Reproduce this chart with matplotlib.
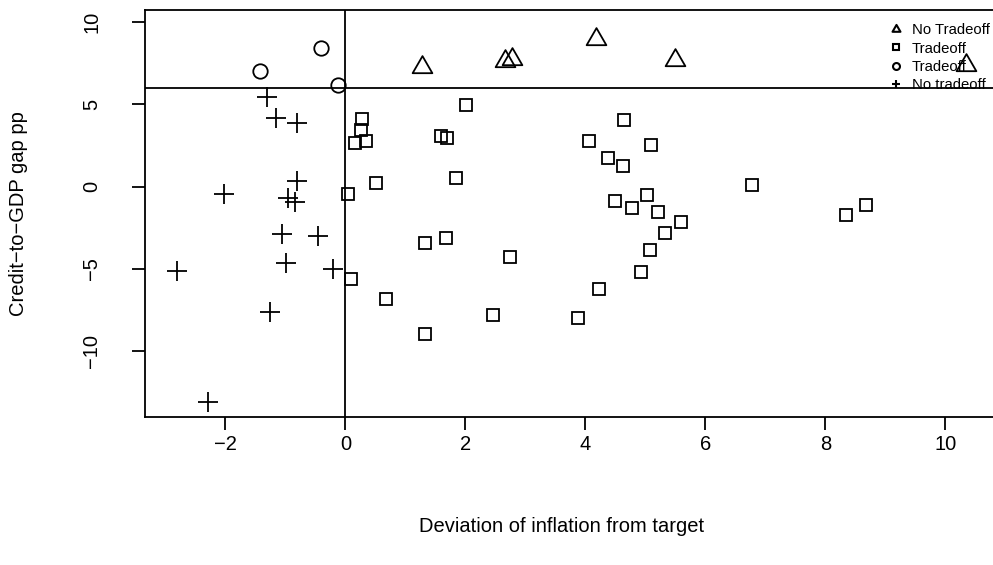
import numpy as np
import matplotlib
matplotlib.use("Agg")
import matplotlib.pyplot as plt
from matplotlib.path import Path
from matplotlib.lines import Line2D

plt.rcParams['font.family'] = ['Liberation Sans', 'DejaVu Sans']

# inflation deviation (x) and credit-to-GDP gap (y) per group
notradeoff_hi_x = [1.28, 2.66, 2.78, 4.17, 5.50, 10.34]
notradeoff_hi_y = [7.25, 7.66, 7.77, 8.95, 7.71, 7.40]

tradeoff_lo_x = [2.01, 0.27, 0.26, 0.16, 0.35, 1.60, 1.70, 1.85, 0.51, 0.04,
                 1.32, 1.67, 2.75, 0.09, 0.67, 2.46, 1.32,
                 4.64, 4.06, 5.10, 4.37, 4.62, 6.77, 4.50, 5.03, 4.77, 5.21,
                 5.60, 5.32, 5.08, 4.92, 4.23, 3.87, 8.34, 8.68]
tradeoff_lo_y = [4.95, 4.12, 3.45, 2.66, 2.78, 3.10, 2.96, 0.53, 0.24, -0.43,
                 -3.44, -3.14, -4.29, -5.61, -6.83, -7.82, -8.95,
                 4.05, 2.76, 2.52, 1.72, 1.26, 0.08, -0.85, -0.50, -1.28, -1.54,
                 -2.15, -2.83, -3.87, -5.17, -6.20, -7.98, -1.70, -1.13]

tradeoff_hi_x = [-1.43, -0.41, -0.12]
tradeoff_hi_y = [7.05, 8.41, 6.18]

notradeoff_lo_x = [-1.30, -1.155, -0.805, -0.81, -2.03, -0.96, -0.84,
                   -1.05, -0.45, -2.805, -0.99, -0.21, -1.25, -2.29]
notradeoff_lo_y = [5.43, 4.16, 3.87, 0.365, -0.44, -0.71, -0.91,
                   -2.86, -2.98, -5.14, -4.66, -5.02, -7.60, -13.09]

legend_labels = ["No Tradeoff", "Tradeoff", "Tradeoff", "No tradeoff"]
gap_threshold = 6
xticks = [-2, 0, 2, 4, 6, 8, 10]
yticks = [-10, -5, 0, 5, 10]

# R style triangle (centred on centroid)
tri = Path([(0, 1), (-0.866, -0.5), (0.866, -0.5), (0, 0)], closed=True)

W, H = 993, 565
fig = plt.figure(figsize=(W / 100, H / 100), dpi=100)
left, bottom, top = 145, 416.7, 10
ax = fig.add_axes([left / W, 1 - bottom / H, 1 - left / W, (bottom - top) / H])

lw = 1.3
ax.plot(notradeoff_hi_x, notradeoff_hi_y, ls='none', marker=tri, ms=16.4,
        mfc='none', mec='black', mew=lw)
ax.plot(tradeoff_lo_x, tradeoff_lo_y, ls='none', marker='s', ms=9.2,
        mfc='none', mec='black', mew=lw)
ax.plot(tradeoff_hi_x, tradeoff_hi_y, ls='none', marker='o', ms=10.4,
        mfc='none', mec='black', mew=lw)
ax.plot(notradeoff_lo_x, notradeoff_lo_y, ls='none', marker='+', ms=14.7,
        mec='black', mew=lw)

ax.axhline(gap_threshold, color='black', lw=lw)
ax.axvline(0, color='black', lw=lw)

ax.set_xlim(-3.34, (W - 345.3) / 60)
ax.set_ylim(-13.98, 10.74)
ax.set_xticks(xticks)
ax.set_yticks(yticks)
ax.spines['right'].set_visible(False)
for s in ['left', 'bottom', 'top']:
    ax.spines[s].set_linewidth(lw)
ax.tick_params(direction='out', length=9.4, width=lw, labelsize=14.5)
ax.tick_params(axis='x', pad=4)
ax.tick_params(axis='y', pad=22, labelrotation=90)
for t in ax.get_yticklabels():
    t.set_va('center')

fig.text(562 / W, 1 - 527 / H, "Deviation of inflation from target",
         ha='center', va='center', fontsize=14.5)
fig.text(18.5 / W, 1 - 213.5 / H, "Credit\u2212to\u2212GDP gap pp",
         ha='center', va='center', rotation=90, fontsize=14.5)

handles = [
    Line2D([], [], ls='none', marker=tri, ms=6.6, mfc='none', mec='black', mew=1.5),
    Line2D([], [], ls='none', marker='s', ms=4.3, mfc='none', mec='black', mew=1.5),
    Line2D([], [], ls='none', marker='o', ms=5.0, mfc='none', mec='black', mew=1.5),
    Line2D([], [], ls='none', marker='+', ms=6.0, mec='black', mew=1.5),
]
ax.legend(handles, legend_labels, loc='upper left',
          bbox_to_anchor=(888.7 / W, 1 - 23.5 / H), bbox_transform=fig.transFigure,
          frameon=False, fontsize=10.7, borderpad=0, borderaxespad=0,
          handlelength=1.0, handletextpad=0.55, labelspacing=0.28)

fig.savefig("out.png", dpi=100)
